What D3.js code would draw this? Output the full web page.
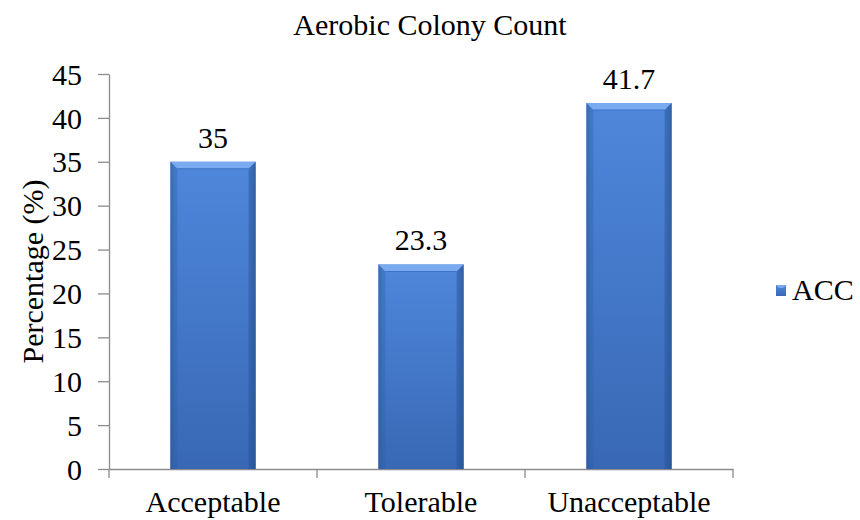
<!DOCTYPE html>
<html><head><meta charset="utf-8">
<script src="https://cdn.jsdelivr.net/npm/d3@7"></script>
</head><body style="margin:0;background:#fff"><svg id="c" width="860" height="520" style="font-family:'Liberation Serif','Times New Roman',serif"></svg>
<script>
const categories = ["Acceptable", "Tolerable", "Unacceptable"];
const values = [35, 23.3, 41.7];
const valueLabels = ["35", "23.3", "41.7"];
const yTicks = [0, 5, 10, 15, 20, 25, 30, 35, 40, 45];
const seriesName = "ACC";
const title = "Aerobic Colony Count";
const yTitle = "Percentage (%)";

const FS = 30;
const svg = d3.select("#c");
const L = 109, R = 733, T = 74, B = 469;
const x = d3.scaleBand().domain(categories).range([L, R]).paddingInner(0.59).paddingOuter(0.295);
const y = d3.scaleLinear().domain([0, 45]).range([B, T]);

const defs = svg.append("defs");
const gv = defs.append("linearGradient").attr("id", "gv").attr("x1", 0).attr("y1", 0).attr("x2", 0).attr("y2", 1);
gv.append("stop").attr("offset", "0%").attr("stop-color", "#4f87db");
gv.append("stop").attr("offset", "100%").attr("stop-color", "#3868b5");
const gh = defs.append("linearGradient").attr("id", "gh").attr("x1", 0).attr("y1", 0).attr("x2", 1).attr("y2", 0);
gh.append("stop").attr("offset", "0%").attr("stop-color", "#1f4a8a").attr("stop-opacity", 0.35);
gh.append("stop").attr("offset", "6%").attr("stop-color", "#1f4a8a").attr("stop-opacity", 0);
gh.append("stop").attr("offset", "94%").attr("stop-color", "#1f4a8a").attr("stop-opacity", 0);
gh.append("stop").attr("offset", "100%").attr("stop-color", "#1f4a8a").attr("stop-opacity", 0.4);

function txt(sel, fs) { return sel.attr("font-size", fs || FS).attr("fill", "#000").style("font-family", '"Liberation Serif"'); }

// Title
txt(svg.append("text"), 30).attr("x", 430).attr("y", 35).attr("text-anchor", "middle").text(title);

// Y axis
const yAxis = svg.append("g").attr("transform", `translate(${L},0)`)
  .call(d3.axisLeft(y).tickValues(yTicks).tickSize(11).tickPadding(16).tickSizeOuter(0));
yAxis.attr("font-family", null).attr("font-size", FS);
yAxis.select(".domain").attr("stroke", "#8c8c8c").attr("stroke-width", 1.3);
yAxis.selectAll(".tick line").attr("stroke", "#8c8c8c").attr("stroke-width", 1.3);
txt(yAxis.selectAll("text")).attr("dy", "0.34em");

// X axis
const xAxis = svg.append("g").attr("transform", `translate(0,${B})`)
  .call(d3.axisBottom(x).tickSize(0).tickPadding(22).tickSizeOuter(0));
xAxis.attr("font-family", null).attr("font-size", FS);
xAxis.select(".domain").attr("stroke", "#8c8c8c").attr("stroke-width", 1.3);
txt(xAxis.selectAll("text"));
const bounds = d3.range(categories.length + 1).map(i => L + i * (R - L) / categories.length);
xAxis.selectAll(".bt").data(bounds).enter().append("line")
  .attr("x1", d => d).attr("x2", d => d).attr("y1", 0).attr("y2", 9)
  .attr("stroke", "#8c8c8c").attr("stroke-width", 1.3);

// Bars
const bars = svg.append("g").selectAll("g").data(categories).enter().append("g");
bars.append("rect").attr("x", d => x(d)).attr("y", (d, i) => y(values[i]))
  .attr("width", x.bandwidth()).attr("height", (d, i) => B - y(values[i])).attr("fill", "url(#gv)");
bars.append("rect").attr("x", d => x(d)).attr("y", (d, i) => y(values[i]))
  .attr("width", x.bandwidth()).attr("height", (d, i) => B - y(values[i])).attr("fill", "url(#gh)");
const bev = 7;
bars.append("path").attr("d", (d, i) => {
  const x0 = x(d), x1 = x(d) + x.bandwidth(), yt = y(values[i]);
  return `M${x0},${yt}L${x1},${yt}L${x1 - bev},${yt + bev}L${x0 + bev},${yt + bev}Z`;
}).attr("fill", "#7aaaf0");
bars.append("line").attr("x1", d => x(d) + bev).attr("x2", d => x(d) + x.bandwidth() - bev)
  .attr("y1", (d, i) => y(values[i]) + bev).attr("y2", (d, i) => y(values[i]) + bev)
  .attr("stroke", "#3e73c4").attr("stroke-width", 1);
bars.append("path").attr("d", (d, i) => {
  const x0 = x(d), yt = y(values[i]);
  return `M${x0},${yt}L${x0 + bev},${yt + bev}L${x0 + bev},${B}L${x0},${B}Z`;
}).attr("fill", "#2f5fa8").attr("opacity", 0.35);
bars.append("path").attr("d", (d, i) => {
  const x1 = x(d) + x.bandwidth(), yt = y(values[i]);
  return `M${x1},${yt}L${x1 - bev},${yt + bev}L${x1 - bev},${B}L${x1},${B}Z`;
}).attr("fill", "#23508f").attr("opacity", 0.45);

// value labels
txt(bars.append("text")).attr("x", d => x(d) + x.bandwidth() / 2).attr("y", (d, i) => y(values[i]) - 14)
  .attr("text-anchor", "middle").text((d, i) => valueLabels[i]);

// Y title
txt(svg.append("text")).attr("transform", `translate(43,${(T + B) / 2}) rotate(-90)`)
  .attr("text-anchor", "middle").text(yTitle);

// Legend
const lg = svg.append("g").attr("transform", "translate(776,285)");
lg.append("rect").attr("width", 10).attr("height", 11).attr("fill", "url(#gv)");
lg.append("path").attr("d", "M0,0L10,0L7,3L3,3Z").attr("fill", "#7aaaf0");
txt(lg.append("text")).attr("x", 16).attr("y", 15).text(seriesName);
</script></body></html>
